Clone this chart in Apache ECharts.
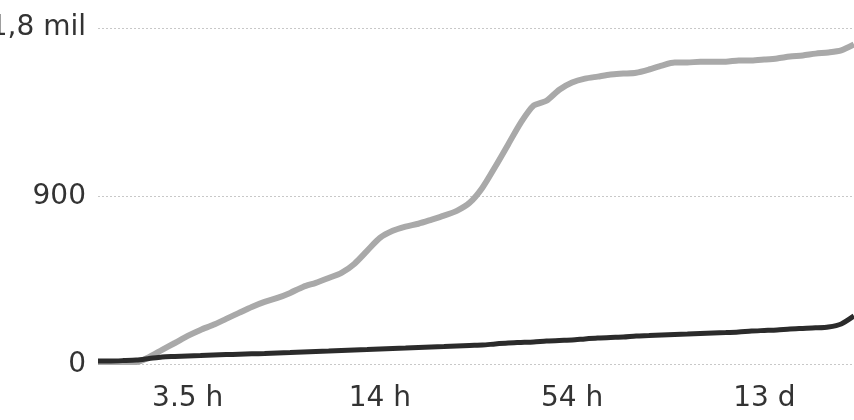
<!DOCTYPE html>
<html>
<head>
<meta charset="utf-8">
<script src="https://cdn.jsdelivr.net/npm/echarts@6/dist/echarts.min.js"></script>
<style>
html,body{margin:0;padding:0;background:#fff;}
#c{width:854px;height:420px;}
</style>
</head>
<body>
<div id="c"></div>
<script>
// Tick labels on the x axis and the point index where each one sits
const xTickLabels = ["3.5 h", "14 h", "54 h", "13 d"];
const xTickIndex = [7, 22, 37, 52];
// Y axis tick labels (values 0, 900, 1800)
const yTickValues = [0, 900, 1800];
const yTickLabels = ["0", "900", "1,8 mil"];

// Light grey series
const greySeries = [13, 13, 13, 13, 40, 78, 115, 153, 185, 212,
  244, 276, 308, 335, 356, 383, 415, 437, 463, 490,
  538, 608, 677, 715, 737, 753, 774, 796, 822, 865,
  946, 1058, 1176, 1294, 1385, 1411, 1470, 1508, 1529, 1540,
  1551, 1556, 1561, 1578, 1599, 1615, 1615, 1620, 1620, 1620,
  1626, 1626, 1631, 1637, 1647, 1653, 1663, 1669, 1680, 1712];
// Dark series
const darkSeries = [19, 19, 21, 24, 32, 40, 43, 46, 48, 51,
  53, 55, 57, 59, 62, 64, 67, 70, 72, 75,
  78, 80, 83, 86, 88, 91, 94, 96, 99, 102,
  104, 110, 115, 118, 121, 126, 129, 131, 137, 142,
  145, 147, 153, 155, 158, 161, 163, 166, 169, 171,
  174, 179, 182, 185, 190, 193, 196, 201, 217, 260];

const categories = greySeries.map((_, i) => i);

const chart = echarts.init(document.getElementById('c'), null, {renderer: 'canvas'});
const font = '"DejaVu Sans", sans-serif';
chart.setOption({
  animation: false,
  backgroundColor: '#ffffff',
  grid: {left: 98, right: 0, top: 28, bottom: 55.5, containLabel: false, outerBoundsMode: 'none'},
  xAxis: {
    type: 'category',
    data: categories,
    boundaryGap: false,
    axisLine: {show: false},
    axisTick: {show: false},
    splitLine: {show: false},
    axisLabel: {
      interval: (idx) => xTickIndex.indexOf(idx) >= 0,
      formatter: (v, idx) => {
        const k = xTickIndex.indexOf(Number(v));
        return k >= 0 ? xTickLabels[k] : '';
      },
      color: '#333333',
      fontSize: 28,
      fontFamily: font,
      margin: 20
    }
  },
  yAxis: {
    type: 'value',
    min: 0,
    max: 1800,
    interval: 900,
    axisLine: {show: false},
    axisTick: {show: false},
    axisLabel: {
      formatter: (v) => {
        const k = yTickValues.indexOf(v);
        return k >= 0 ? yTickLabels[k] : '';
      },
      color: '#333333',
      fontSize: 28,
      fontFamily: font,
      margin: 12
    },
    splitLine: {show: true, lineStyle: {color: '#c8c8c8', width: 1, type: [2, 2]}}
  },
  series: [
    {
      name: 'grey', type: 'line', data: greySeries, showSymbol: false, smooth: 0.25,
      lineStyle: {color: '#a9a9a9', width: 6}, z: 2
    },
    {
      name: 'dark', type: 'line', data: darkSeries, showSymbol: false, smooth: 0.25,
      lineStyle: {color: '#2b2b2b', width: 5}, z: 3
    }
  ]
});
</script>
</body>
</html>
